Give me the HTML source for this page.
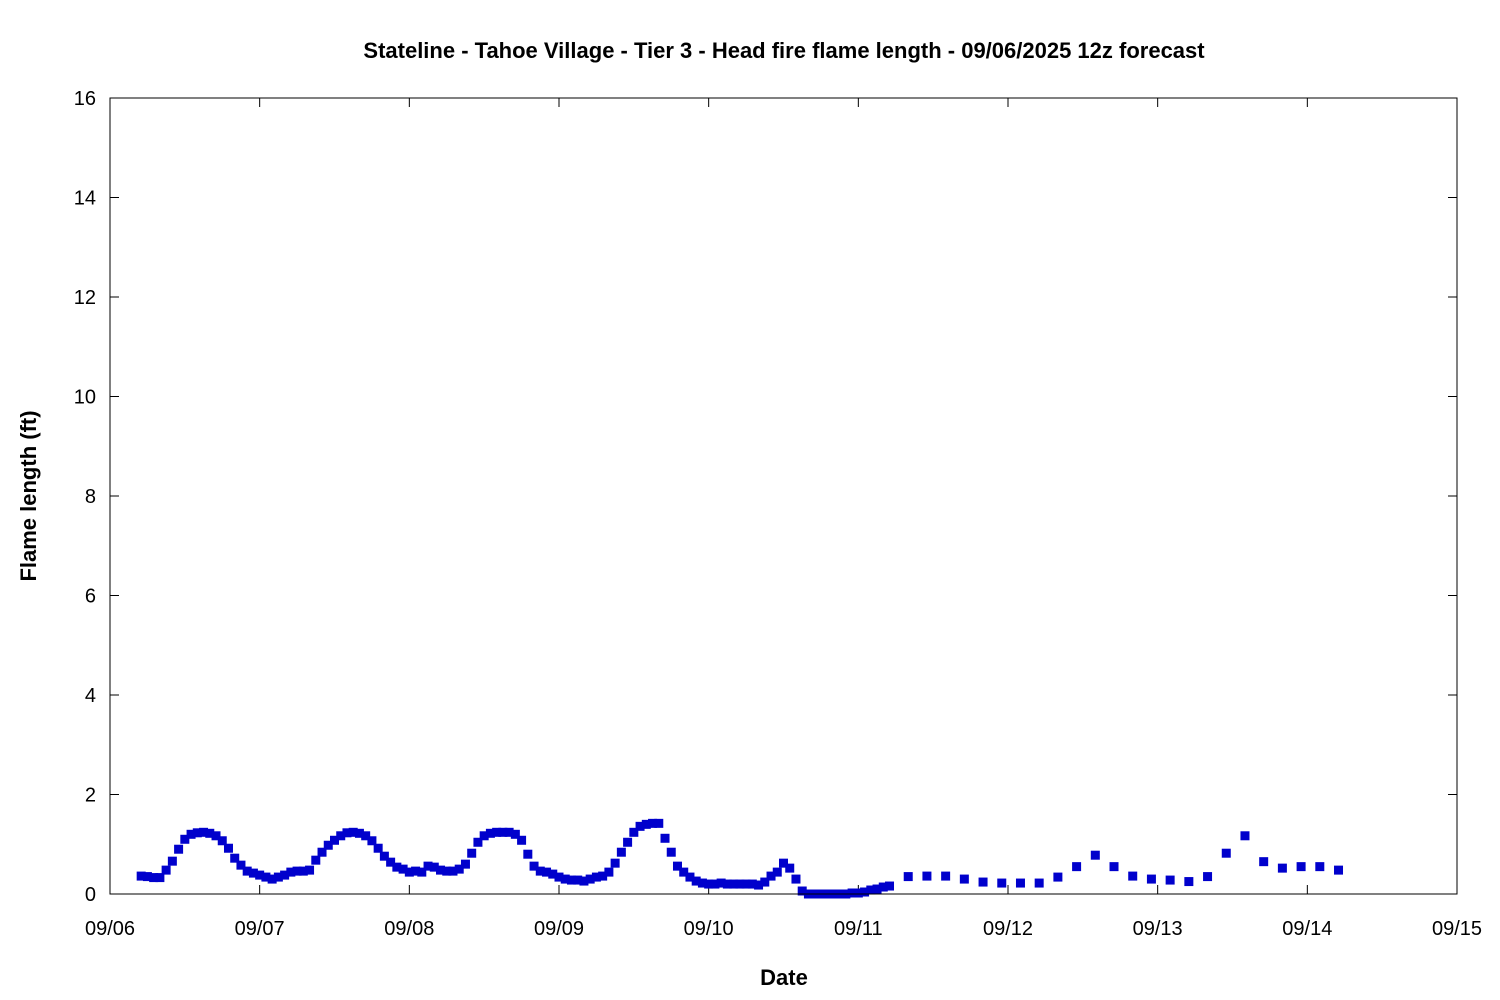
<!DOCTYPE html>
<html><head><meta charset="utf-8"><style>
html,body{margin:0;padding:0;background:#fff;}
svg{display:block;font-family:"Liberation Sans","DejaVu Sans",sans-serif;}
</style></head><body>
<svg id="chart" width="1500" height="1000" viewBox="0 0 1500 1000" xmlns="http://www.w3.org/2000/svg">
<rect width="1500" height="1000" fill="#fff"/>
<text x="784" y="58" text-anchor="middle" font-size="22" font-weight="bold">Stateline - Tahoe Village - Tier 3 - Head fire flame length - 09/06/2025 12z forecast</text>
<text x="784" y="985" text-anchor="middle" font-size="22" font-weight="bold">Date</text>
<text transform="translate(36,496) rotate(-90)" text-anchor="middle" font-size="22" font-weight="bold">Flame length (ft)</text>
<g id="axes"></g>
<g id="marks"></g>
<rect x="110" y="98" width="1347" height="796" fill="none" stroke="#000" stroke-width="1"/>
</svg>
<script>
const yTicks = [0,2,4,6,8,10,12,14,16];
const xTickLabels = ["09/06","09/07","09/08","09/09","09/10","09/11","09/12","09/13","09/14","09/15"];
// hourly series: start hour (from 09/06 00z) and values
const hourlyStart = 5;
const hourlyValues = [0.36,0.35,0.33,0.33,0.48,0.66,0.9,1.1,1.2,1.23,
1.24,1.22,1.17,1.07,0.92,0.72,0.58,0.46,0.42,0.38,
0.34,0.3,0.34,0.38,0.44,0.46,0.46,0.48,0.68,0.84,
0.98,1.08,1.17,1.23,1.24,1.22,1.17,1.07,0.92,0.76,
0.64,0.54,0.5,0.44,0.46,0.44,0.56,0.54,0.48,0.46,
0.46,0.5,0.6,0.82,1.04,1.17,1.22,1.24,1.24,1.24,
1.2,1.08,0.8,0.56,0.46,0.44,0.4,0.34,0.3,0.28,
0.28,0.26,0.3,0.34,0.36,0.44,0.62,0.84,1.04,1.24,
1.36,1.4,1.42,1.42,1.12,0.84,0.56,0.44,0.34,0.26,
0.22,0.2,0.2,0.22,0.2,0.2,0.2,0.2,0.2,0.18,
0.24,0.36,0.44,0.62,0.52,0.3,0.06,0,0,0,
0,0,0,0,0.02,0.02,0.04,0.08,0.1,0.14,0.16];
// 3-hourly series
const threeHourlyStart = 128;
const threeHourlyValues = [0.35,0.36,0.36,0.3,0.24,0.22,0.22,0.22,0.34,0.55,0.78,0.55,0.36,0.3,0.28,0.25,0.35,0.82,1.17,0.65,0.52,0.55,0.55,0.48];

const X0=110,X1=1457,Y0=894,Y1=98;
const xScale = h => X0 + (X1-X0)*h/(24*9);
const yScale = v => Y0 - (Y0-Y1)*v/16;
const NS="http://www.w3.org/2000/svg";
const axes=document.getElementById('axes');
const marks=document.getElementById('marks');
function mk(tag,attrs,parent){const e=document.createElementNS(NS,tag);for(const k in attrs)e.setAttribute(k,attrs[k]);parent.appendChild(e);return e;}
yTicks.forEach(v=>{
  const y=yScale(v);
  const l=mk('path',{d:`M${X0},${y}h9M${X1},${y}h-9`,stroke:'#000','stroke-width':1},axes);
  
  
  const t=mk('text',{x:X0-14,y:y+7,'text-anchor':'end','font-size':20},axes);
  t.textContent=v;
  
  
});
xTickLabels.forEach((lab,i)=>{
  const x=xScale(i*24);
  const l=mk('path',{d:`M${x},${Y0}v-9M${x},${Y1}v9`,stroke:'#000','stroke-width':1},axes);
  
  
  const t=mk('text',{x:x,y:935,'text-anchor':'middle','font-size':20},axes);
  t.textContent=lab;
  
  
});
function pt(h,v){
  const r=mk('rect',{x:xScale(h)-4.5,y:yScale(v)-4.5,width:9,height:9,fill:'#0000cc'},marks);
  
  
}
hourlyValues.forEach((v,i)=>pt(hourlyStart+i,v));
threeHourlyValues.forEach((v,i)=>pt(threeHourlyStart+3*i,v));
</script>
</body></html>
